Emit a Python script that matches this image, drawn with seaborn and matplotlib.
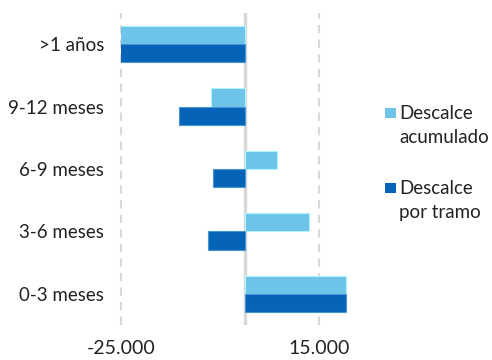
import matplotlib
matplotlib.use("Agg")
import matplotlib.pyplot as plt
from matplotlib.patches import Rectangle
import seaborn as sns
import pandas as pd

# Plazos (de arriba hacia abajo) y descalces en millones
tramos = [">1 años", "9-12 meses", "6-9 meses", "3-6 meses", "0-3 meses"]
series = ["Descalce acumulado", "Descalce por tramo"]
acumulado = [-33000, -6900, 6500, 13000, 20400]
por_tramo = [-26000, -13400, -6500, -7400, 20400]
xticks = [-25000, 15000]
xtick_labels = ["-25.000", "15.000"]

color_acum = "#6EC3E9"
color_tramo = "#0563B8"

df = pd.DataFrame({
    "tramo": tramos * 2,
    "serie": [series[0]] * len(tramos) + [series[1]] * len(tramos),
    "valor": acumulado + por_tramo,
})

sns.set_theme(style="white")
plt.rcParams["font.family"] = ["Lato", "DejaVu Sans"]

fs = 13.5
fig = plt.figure(figsize=(4.92, 3.6), dpi=100)
ax = fig.add_axes([0.246, 0.097, 0.504, 0.867])

sns.barplot(data=df, y="tramo", x="valor", hue="serie", order=tramos,
            hue_order=series, palette=[color_acum, color_tramo],
            saturation=1, orient="h", width=0.587, ax=ax, legend=False,
            linewidth=0.8)

# Borde claro en las barras
for patch in ax.patches:
    fc = patch.get_facecolor()
    patch.set_edgecolor((min(fc[0] + 0.25, 1), min(fc[1] + 0.2, 1), min(fc[2] + 0.1, 1), 1))

ax.set_xlim(-25000, 25000)
ax.set_ylim(4.5, -0.5)
ax.set_xticks(xticks)
ax.set_xticklabels(xtick_labels)
ax.set_xlabel("")
ax.set_ylabel("")

for x in xticks:
    ax.axvline(x, color="#D9D9D9", lw=1.5, ls=(0, (4, 3)), zorder=0, clip_on=False)
ax.axvline(0, color="#D9D9D9", lw=2.5, zorder=0.5)

for s in ax.spines.values():
    s.set_visible(False)
ax.tick_params(axis="both", length=0, colors="#222222")
ax.tick_params(axis="x", pad=11, labelsize=14)
ax.tick_params(axis="y", pad=12, labelsize=fs)

# Leyenda a la derecha
entries = [(("Descalce", "acumulado"), color_acum, 118),
           (("Descalce", "por tramo"), color_tramo, 193)]
W, H = 492.0, 360.0
for lines, col, ybot in entries:
    fig.patches.append(Rectangle((385 / W, 1 - ybot / H), 10.5 / W, 10 / H,
                                 transform=fig.transFigure, facecolor=col,
                                 edgecolor="none"))
    for i, line in enumerate(lines):
        fig.text(399 / W, 1 - (ybot + 1 + 24 * i) / H, line, fontsize=fs,
                 color="#222222", va="baseline", ha="left")

fig.savefig("out.png", dpi=100)
